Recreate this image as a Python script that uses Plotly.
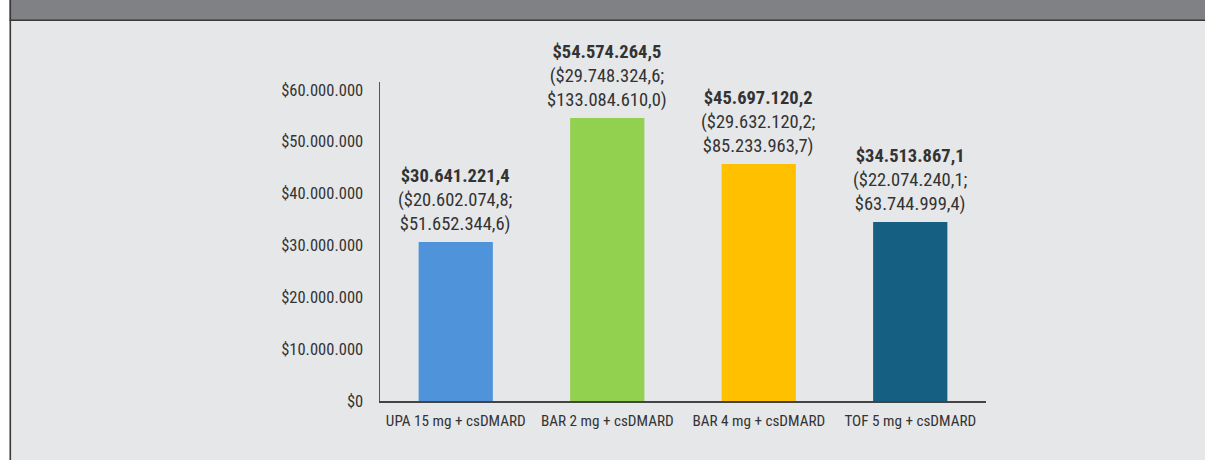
import plotly.graph_objects as go

categories = ["UPA 15 mg + csDMARD", "BAR 2 mg + csDMARD", "BAR 4 mg + csDMARD", "TOF 5 mg + csDMARD"]
values = [30641221.4, 54574264.5, 45697120.2, 34513867.1]
ci_low = [20602074.8, 29748324.6, 29632120.2, 22074240.1]
ci_high = [51652344.6, 133084610.0, 85233963.7, 63744999.4]
bar_colors = ["#4f94da", "#92d050", "#ffc000", "#145f82"]
y_ticks = [0, 10000000, 20000000, 30000000, 40000000, 50000000, 60000000]
y_tick_labels = ["$0", "$10.000.000", "$20.000.000", "$30.000.000", "$40.000.000", "$50.000.000", "$60.000.000"]

FONT = "Roboto Condensed, Liberation Sans Narrow, Arial Narrow, DejaVu Sans Condensed, Roboto, sans-serif"
TXT = "#333333"
W, H = 1205, 460
L, R, T, B = 380, 219, 82, 59
PW, PH = W - L - R, H - T - B


def fmt(v):
    s = f"{v:,.1f}"
    return "$" + s.replace(",", "X").replace(".", ",").replace("X", ".")


def px_x(p):
    return (p - L) / PW


def px_y(p):
    return 1 - (p - T) / PH


fig = go.Figure()
fig.add_trace(go.Bar(
    x=categories, y=values, marker=dict(color=bar_colors, line=dict(width=0)),
    hoverinfo="skip", showlegend=False,
))

for c, v, lo, hi in zip(categories, values, ci_low, ci_high):
    fig.add_annotation(
        x=c, y=v, xref="x", yref="y", showarrow=False, yanchor="bottom",
        yshift=5,
        text=f"<b>{fmt(v)}</b><br>({fmt(lo)};<br>{fmt(hi)})",
        font=dict(family=FONT, size=18.5, color=TXT), align="center",
    )

shapes = [
    dict(type="rect", xref="paper", yref="paper", x0=px_x(-5), x1=px_x(9.5), y0=px_y(-5), y1=px_y(470),
         fillcolor="white", line=dict(width=0), layer="below"),
    dict(type="rect", xref="paper", yref="paper", x0=px_x(9.5), x1=px_x(1210), y0=px_y(-5), y1=px_y(20),
         fillcolor="#808184", line=dict(width=0), layer="below"),
    dict(type="line", xref="paper", yref="paper", x0=px_x(9.5), x1=px_x(1210), y0=px_y(20.2), y1=px_y(20.2),
         line=dict(color="#3a3a3a", width=1.6), layer="below"),
    dict(type="line", xref="paper", yref="paper", x0=px_x(10.3), x1=px_x(10.3), y0=px_y(0), y1=px_y(470),
         line=dict(color="#3a3a3a", width=1.6), layer="below"),
]

fig.update_layout(
    width=W, height=H,
    margin=dict(l=L, r=R, t=T, b=B, pad=0),
    paper_bgcolor="#e6e7e9", plot_bgcolor="#e6e7e9",
    bargap=0.51,
    shapes=shapes,
    font=dict(family=FONT, color=TXT),
    xaxis=dict(
        showgrid=False, showline=True, linecolor="#444444", linewidth=1.5,
        tickfont=dict(family=FONT, size=15.2, color=TXT), ticks="", zeroline=False,
        ticklabelstandoff=5, fixedrange=True,
    ),
    yaxis=dict(
        range=[0, 61.5e6], showgrid=False, zeroline=False, showline=True,
        linecolor="#555555", linewidth=1.5, tickvals=y_ticks, ticktext=y_tick_labels,
        ticks="", ticklabelstandoff=12,
        tickfont=dict(family=FONT, size=16.5, color=TXT), fixedrange=True,
    ),
)

fig.write_html(
    "out.html",
    config={"displayModeBar": False, "staticPlot": True},
    post_script="document.body.style.margin='0';document.body.style.padding='0';",
)
